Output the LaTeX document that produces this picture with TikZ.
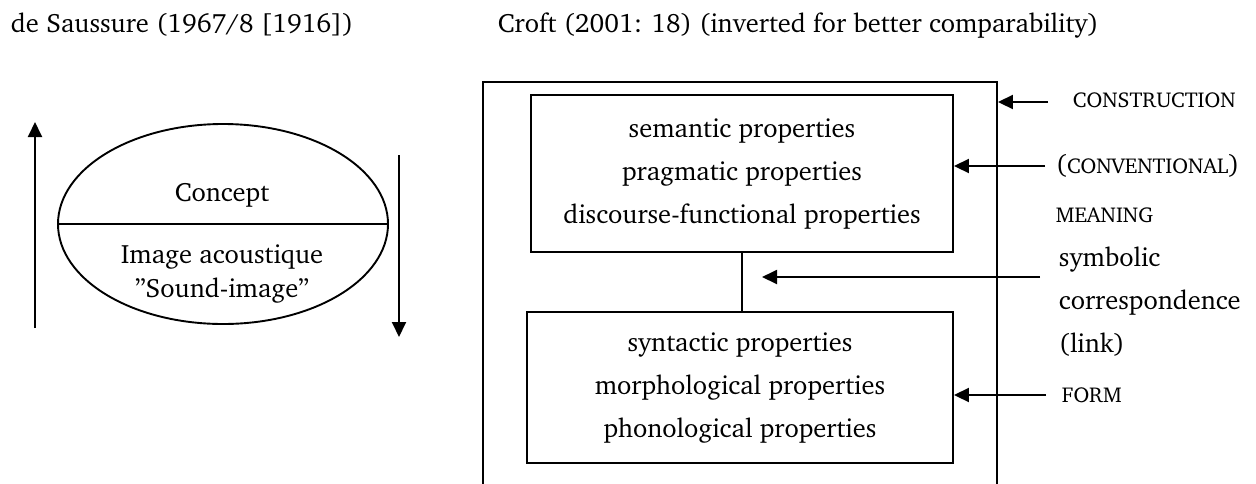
\documentclass[tikz,border=0pt]{standalone}
\usepackage[T1]{fontenc}
\usepackage{charter}
\usetikzlibrary{shapes.geometric,arrows.meta}

\newcommand{\bodysz}{\fontsize{26.5}{43}\selectfont}
\newcommand{\capsz}{\fontsize{21.5}{24}\selectfont}

\begin{document}
\begin{tikzpicture}[x=1pt,y=-1pt,
  line width=1.9pt,
  txt/.style={font=\bodysz, inner sep=0pt},
  lab/.style={font=\bodysz, inner sep=0pt, anchor=west, align=left},
  sc/.style={font=\capsz, inner sep=0pt, anchor=west},
  propbox/.style={draw, rectangle, inner sep=0pt, align=center, font=\bodysz},
  tip/.style={-{Triangle[length=15pt,width=14pt]}},
]
\useasboundingbox (0,0) rectangle (1256,483);

% headings
\node[txt, anchor=base west] (t1) at (10,32) {de Saussure (1967/8 [1916])};
\node[txt, anchor=base west] (t2) at (497,32) {Croft (2001: 18) (inverted for better comparability)};

% Saussure's sign
\node[draw, ellipse, minimum width=330pt, minimum height=200pt, inner sep=0pt] (sign) at (223,224) {};
\draw (sign.west) -- (sign.east);
\node[txt] (concept) at (222,195) {Concept};
\node[txt] (image) at (222,257) {Image acoustique};
\node[txt] (sound) at (222,290) {''Sound-image''};

\coordinate (upS) at (35,328);
\coordinate (upE) at (35,122);
\draw[tip] (upS) -- (upE);
\coordinate (dnS) at (399,155);
\coordinate (dnE) at (399,337);
\draw[tip] (dnS) -- (dnE);

% Croft's construction
\node[draw, rectangle, minimum width=514pt, minimum height=420pt, inner sep=0pt] (cxn) at (740,292) {};
\node[propbox, minimum width=422pt, minimum height=157pt] (meaning) at (742,173.5)
  {semantic properties\\pragmatic properties\\discourse-functional properties};
\node[propbox, minimum width=426pt, minimum height=151pt] (form) at (740,387.5)
  {syntactic properties\\morphological properties\\phonological properties};
\draw (meaning.south) -- (meaning.south |- form.north);

% labels on the right
\node[sc] (lcxn) at (1072,100) {CONSTRUCTION};
\coordinate (acxn) at (1048,102);
\draw[tip] (acxn) -- (cxn.east |- acxn);

\node[lab] (lconv) at (1055,166) {({\capsz CONVENTIONAL})};
\node[sc] (lmean) at (1055,215) {MEANING};
\coordinate (amean) at (1045,166);
\draw[tip] (amean) -- (meaning.east |- amean);

\node[lab] (llink) at (1058,302) {symbolic\\correspondence\\(link)};
\coordinate (alink) at (1040,277);
\coordinate (elink) at (762,277);
\draw[tip] (alink) -- (elink);

\node[sc] (lform) at (1061,395) {FORM};
\coordinate (aform) at (1046,395);
\draw[tip] (aform) -- (form.east |- aform);
\end{tikzpicture}
\end{document}
